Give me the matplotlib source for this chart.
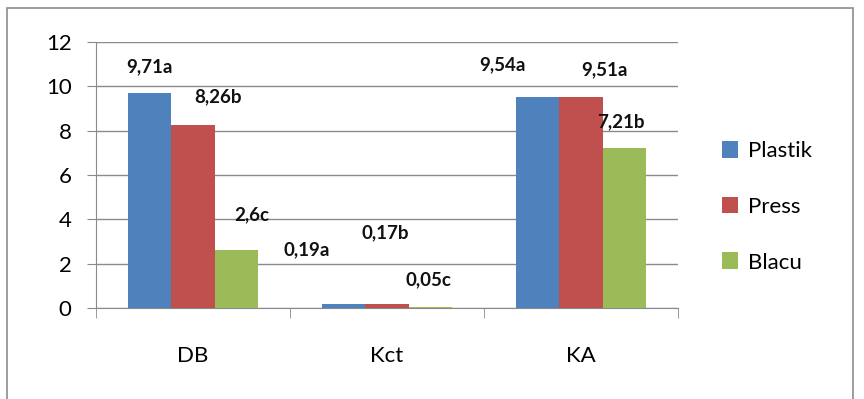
import matplotlib
matplotlib.use("Agg")
import matplotlib.pyplot as plt
import numpy as np
from matplotlib.patches import Rectangle

plt.rcParams["font.family"] = ["Lato", "DejaVu Sans"]

categories = ["DB", "Kct", "KA"]
series = ["Plastik", "Press", "Blacu"]
plastik = [9.71, 0.19, 9.54]
press = [8.26, 0.17, 9.51]
blacu = [2.6, 0.05, 7.21]
labels = [
    ["9,71a", "0,19a", "9,54a"],
    ["8,26b", "0,17b", "9,51a"],
    ["2,6c", "0,05c", "7,21b"],
]
colors = ["#4F81BD", "#C0504D", "#9BBB59"]

# label placement (manually nudged like the original): x offset from bar centre, y in data units
label_dx = [[0.0, -0.19, -0.18], [0.13, -0.01, 0.12], [0.08, -0.01, -0.02]]
label_y = [[10.87, 2.62, 10.96], [9.52, 3.38, 10.73], [4.19, 1.26, 8.39]]

fig = plt.figure(figsize=(8.64, 3.99), dpi=100)
# outer chart frame
fig.patches.append(Rectangle((7 / 864, -0.05), 846 / 864, 1 - 8 / 399 + 0.05,
                             transform=fig.transFigure, fill=False,
                             edgecolor="#8c8c8c", linewidth=1.2))
ax = fig.add_axes([96 / 864, 1 - 308 / 399, 582 / 864, 266 / 399])

x = np.arange(len(categories))
w = 0.225
for i, (vals, name) in enumerate(zip([plastik, press, blacu], series)):
    xs = x + (i - 1) * w
    ax.bar(xs, vals, width=w, color=colors[i], label=name, zorder=3)
    for j in range(len(categories)):
        ax.text(xs[j] + label_dx[i][j], label_y[i][j], labels[i][j],
                ha="center", va="center", fontsize=13.5, fontweight="bold",
                color="#111111", zorder=4)

ax.set_xlim(-0.5, 2.5)
ax.set_ylim(0, 12)
ax.set_yticks(range(0, 13, 2))
ax.yaxis.grid(True, color="#8a8a8a", linewidth=1.0, zorder=0)
ax.set_xticks(x)
ax.set_xticklabels(categories, fontsize=16)
ax.tick_params(axis="x", length=0, pad=27)
ax.set_xticks([-0.5, 0.5, 1.5, 2.5], minor=True)
ax.tick_params(axis="x", which="minor", length=7, color="#8a8a8a")
ax.tick_params(axis="y", labelsize=16, length=6.5, color="#8a8a8a", pad=11)
for s in ["top", "right"]:
    ax.spines[s].set_visible(False)
for s in ["left", "bottom"]:
    ax.spines[s].set_color("#8a8a8a")

leg = ax.legend(loc="center left", bbox_to_anchor=(1.06, 0.38), frameon=False,
                borderaxespad=0, fontsize=16, handlelength=0.73,
                handleheight=0.77, handletextpad=0.45, labelspacing=1.6)

fig.savefig("out.png", dpi=100)
